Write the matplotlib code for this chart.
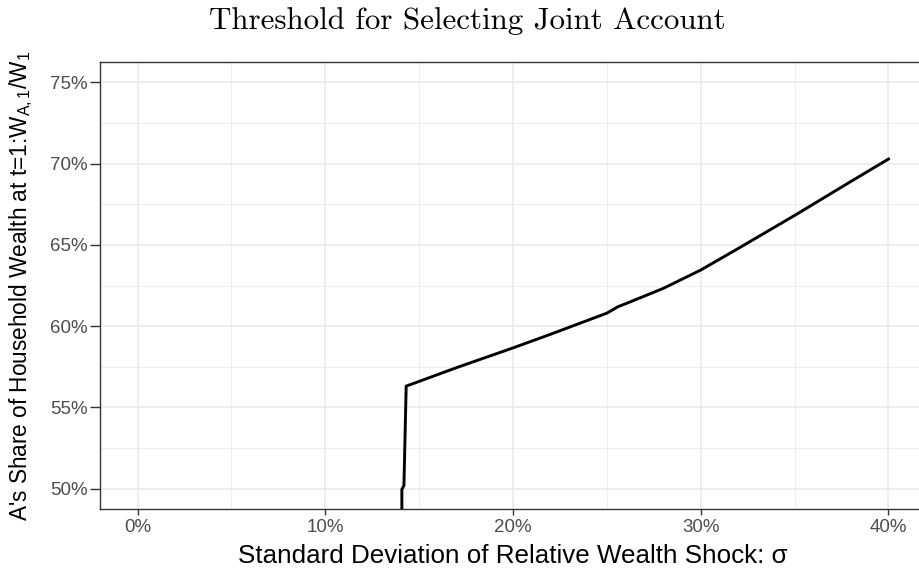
import numpy as np
import matplotlib
matplotlib.use("Agg")
import matplotlib.pyplot as plt
from matplotlib.ticker import MultipleLocator, PercentFormatter

plt.rcParams['font.family'] = ['Liberation Sans', 'DejaVu Sans']
plt.rcParams['mathtext.fontset'] = 'custom'
plt.rcParams['mathtext.rm'] = 'Liberation Sans'
plt.rcParams['mathtext.it'] = 'Liberation Sans:italic'

# threshold curve: sigma vs. A's wealth share at t=1
sigma = [0.1408, 0.1408, 0.1419, 0.1431, 0.15, 0.17, 0.20, 0.22, 0.25, 0.256,
         0.26, 0.28, 0.30, 0.32, 0.35, 0.38, 0.40]
share = [0.470, 0.4995, 0.502, 0.5631, 0.5660, 0.5745, 0.5866, 0.5950, 0.6080, 0.6120,
         0.6138, 0.6232, 0.6345, 0.6478, 0.6681, 0.6890, 0.7028]

xticks = [0.0, 0.1, 0.2, 0.3, 0.4]
yticks = [0.50, 0.55, 0.60, 0.65, 0.70, 0.75]

fig = plt.figure(figsize=(9.19, 5.74), dpi=100)
ax = fig.add_axes([100 / 919, (574 - 509) / 574, 826 / 919, 447 / 574])

ax.plot(sigma, share, color='black', lw=2.1, solid_joinstyle='miter', zorder=3)

ax.set_xlim(-0.02, 0.42)
ax.set_ylim(0.4875, 0.7625)
ax.set_xticks(xticks)
ax.set_yticks(yticks)
ax.xaxis.set_minor_locator(MultipleLocator(0.05))
ax.yaxis.set_minor_locator(MultipleLocator(0.025))
ax.xaxis.set_major_formatter(PercentFormatter(1.0, decimals=0))
ax.yaxis.set_major_formatter(PercentFormatter(1.0, decimals=0))

ax.grid(which='major', color='#EBEBEB', lw=1.2, zorder=0)
ax.grid(which='minor', color='#EBEBEB', lw=0.6, zorder=0)
ax.set_axisbelow(True)
ax.tick_params(which='major', width=1, color='#333333',
               labelcolor='#4D4D4D', labelsize=13.5)
ax.tick_params(axis='x', which='major', length=4.3, pad=3)
ax.tick_params(axis='y', which='major', length=7.5, pad=1.5)
ax.tick_params(which='minor', length=0)
for s in ax.spines.values():
    s.set_color('#333333')
    s.set_linewidth(1.0)

ax.set_xlabel('Standard Deviation of Relative Wealth Shock: σ', fontsize=18.7, labelpad=6)
ax.set_ylabel(r"A's Share of Household Wealth at t=1:W$_{\mathrm{A,1}}$/W$_{\mathrm{1}}$",
              fontsize=16.3, labelpad=11)

fig.text(467 / 919, 1 - 21 / 574, 'Threshold for Selecting Joint Account',
         family='cmr10', fontsize=22.3, ha='center', va='center')

fig.savefig('out.png', dpi=100)
